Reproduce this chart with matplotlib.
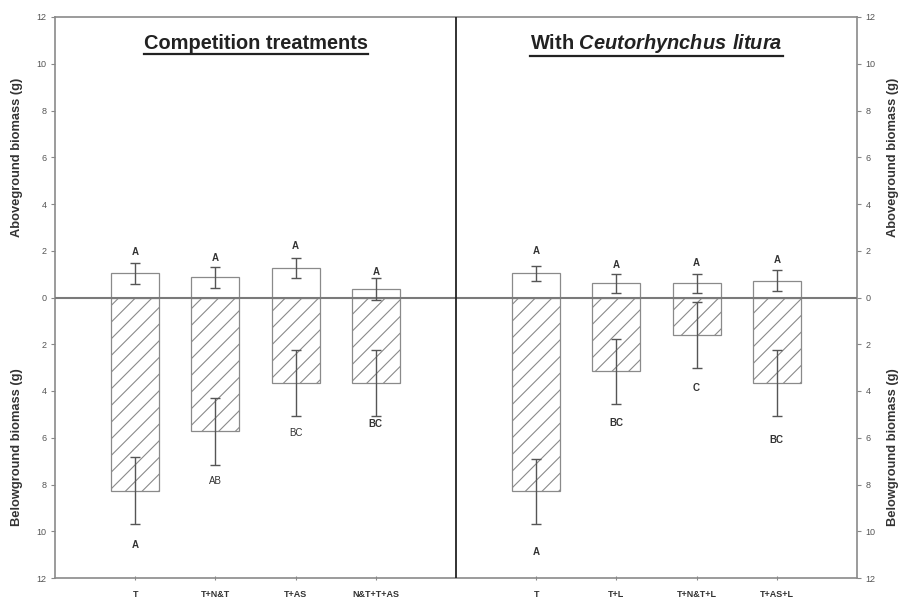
import matplotlib.pyplot as plt
from matplotlib.lines import Line2D
from matplotlib.transforms import IdentityTransform
import numpy as np

plt.rcParams['font.family'] = ['Liberation Sans', 'DejaVu Sans']
plt.rcParams['mathtext.fontset'] = 'custom'
plt.rcParams['mathtext.rm'] = 'Liberation Sans:bold'
plt.rcParams['mathtext.bfit'] = 'Liberation Sans:italic:bold'
plt.rcParams['hatch.color'] = '#999999'
plt.rcParams['hatch.linewidth'] = 0.8

# competition treatments (left panel)
comp_labels = ['T', 'T+N&T', 'T+AS', 'N&T+T+AS']
comp_above = [1.03, 0.86, 1.28, 0.38]
comp_above_err = [0.45, 0.45, 0.43, 0.47]
comp_below = [8.26, 5.73, 3.66, 3.66]
comp_below_err = [1.43, 1.45, 1.42, 1.42]
comp_above_letters = ['A', 'A', 'A', 'A']
comp_above_letter_y = [1.95, 1.7, 2.2, 1.1]
comp_below_letters = ['A', 'AB', 'BC', 'BC']
comp_below_letter_y = [10.6, 7.84, 5.8, 5.41]
comp_below_bold = [True, False, False, True]

# with Ceutorhynchus litura (right panel)
weev_labels = ['T', 'T+L', 'T+N&T+L', 'T+AS+L']
weev_above = [1.03, 0.61, 0.60, 0.71]
weev_above_err = [0.33, 0.41, 0.42, 0.45]
weev_below = [8.29, 3.16, 1.60, 3.66]
weev_below_err = [1.39, 1.40, 1.40, 1.42]
weev_above_letters = ['A', 'A', 'A', 'A']
weev_above_letter_y = [1.99, 1.39, 1.47, 1.6]
weev_below_letters = ['A', 'BC', 'C', 'BC']
weev_below_letter_y = [10.9, 5.37, 3.88, 6.1]
weev_below_bold = [True, True, True, True]

yticks = list(range(-12, 13, 2))

fig = plt.figure(figsize=(9.01, 5.98), dpi=100)
ax = fig.add_axes([55 / 901, 20 / 598, 802 / 901, 561 / 598])

x_left = np.arange(1, 5)
x_right = np.arange(6, 10)

panels = [
    (x_left, comp_above, comp_above_err, comp_below, comp_below_err,
     comp_above_letters, comp_above_letter_y, comp_below_letters, comp_below_letter_y, comp_below_bold),
    (x_right, weev_above, weev_above_err, weev_below, weev_below_err,
     weev_above_letters, weev_above_letter_y, weev_below_letters, weev_below_letter_y, weev_below_bold),
]

for (x, above, above_err, below, below_err, al, aly, bl, bly, bbold) in panels:
    below_neg = -np.array(below)
    ax.bar(x, above, width=0.6, color='white', edgecolor='#8a8a8a', lw=0.9, zorder=2)
    ax.bar(x, below_neg, width=0.6, color='white', edgecolor='#8a8a8a', lw=0.9,
           hatch='//', zorder=2)
    ax.errorbar(x, above, yerr=above_err, fmt='none', ecolor='#555555',
                elinewidth=1, capsize=3.5, capthick=1, zorder=4)
    ax.errorbar(x, below_neg, yerr=below_err, fmt='none', ecolor='#555555',
                elinewidth=1, capsize=3.5, capthick=1, zorder=4)
    for xi, s, yy in zip(x, al, aly):
        ax.text(xi, yy, s, ha='center', va='center', fontsize=7,
                fontweight='bold', color='#333333')
    for xi, s, yy, b in zip(x, bl, bly, bbold):
        ax.text(xi, -yy, s, ha='center', va='center', fontsize=7,
                fontweight='bold' if b else 'normal', color='#333333')

ax.axhline(0, color='#7a7a7a', lw=1.5, zorder=3)
ax.axvline(5, color='#222222', lw=1.3, zorder=3)

ax.set_xlim(0, 10)
ax.set_ylim(-12, 12)
ax.set_yticks(yticks)
ax.set_yticklabels([str(abs(v)) for v in yticks])
ax.yaxis.set_ticks_position('both')
ax.tick_params(axis='y', direction='out', length=3, color='#888888',
               labelsize=6.5, labelcolor='#555555', labelright=True, pad=3)
ax.set_xticks(list(x_left) + list(x_right))
ax.set_xticklabels(comp_labels + weev_labels, fontweight='bold')
ax.tick_params(axis='x', direction='inout', length=3, color='#888888',
               labelsize=6.5, labelcolor='#333333', pad=7)

for sp in ax.spines.values():
    sp.set_color('#8a8a8a')
    sp.set_linewidth(1.2)

ylab = dict(rotation=90, ha='center', va='center', fontsize=9.3,
            fontweight='bold', color='#333333', transform=ax.get_yaxis_transform())
ax.text(-0.047, 6, 'Aboveground biomass (g)', **ylab)
ax.text(-0.047, -6.4, 'Belowground biomass (g)', **ylab)
ax.text(1.045, 6, 'Aboveground biomass (g)', **ylab)
ax.text(1.045, -6.4, 'Belowground biomass (g)', **ylab)

t1 = ax.text(2.5, 10.85, 'Competition treatments', ha='center', va='center',
             fontsize=14.4, fontweight='bold', color='#222222')
t2 = ax.text(7.5, 10.85, r'With $\mathbfit{Ceutorhynchus\ litura}$', ha='center',
             va='center', fontsize=14.4, fontweight='bold', color='#222222')

fig.canvas.draw()
renderer = fig.canvas.get_renderer()
for t in (t1, t2):
    bb = t.get_window_extent(renderer)
    fig.add_artist(Line2D([bb.x0, bb.x1], [bb.y0 - 1, bb.y0 - 1], lw=1.6,
                          color='#222222', transform=IdentityTransform()))

fig.savefig('out.png', dpi=100)
